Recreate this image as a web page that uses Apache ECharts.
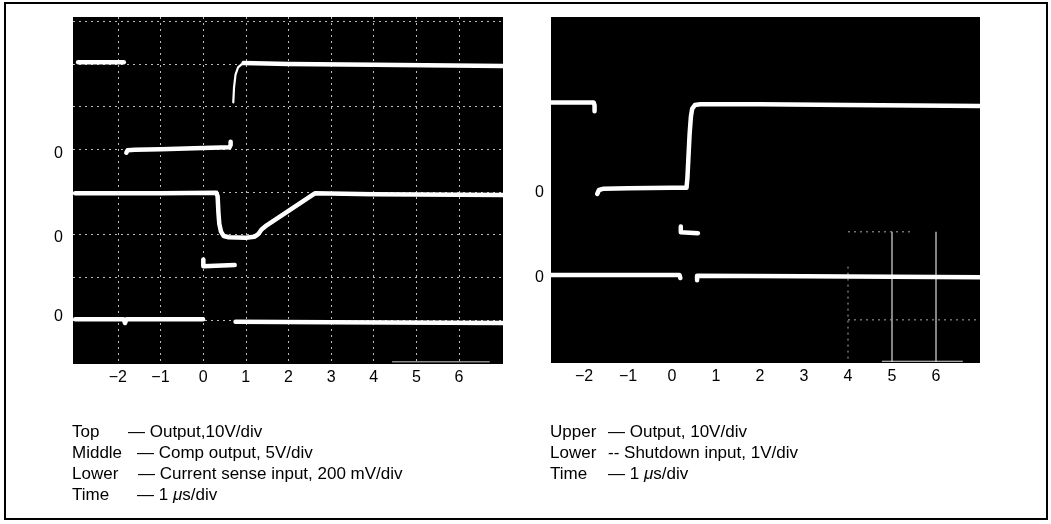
<!DOCTYPE html>
<html><head><meta charset="utf-8">
<script src="https://cdn.jsdelivr.net/npm/echarts@6/dist/echarts.min.js"></script>
<style>html,body{margin:0;padding:0;background:#fff}#c{width:1051px;height:524px}</style>
</head><body><div id="c"></div>
<script>
// ---- axis ticks (time in µs, vertical positions in screen divisions) ----
const timeTicks = [-2, -1, 0, 1, 2, 3, 4, 5, 6];
const timeTickLabels = ['\u22122', '\u22121', '0', '1', '2', '3', '4', '5', '6'];
const leftDivLines = [1, 2, 3, 4, 5, 6, 7, 8];
const leftZeroLabels = [4.91, 2.94, 1.07];
const rightZeroLabels = [3.86, 1.94];

// ---- left scope: Top = Output, Middle = Comp output, Lower = Current sense ----
const leftOutputBefore = [[-2.93, 7.04], [-1.86, 7.04]];
const leftOutputLow = [[-1.80, 4.92], [-1.77, 4.98], [-1.6, 4.99], [-1.0, 5.0], [0.0, 5.03], [0.62, 5.05], [0.645, 5.1], [0.645, 5.18]];
const leftOutputRise = [[0.707, 6.1], [0.725, 6.45], [0.76, 6.75], [0.82, 6.92], [0.9, 6.99], [1.0, 7.02]];
const leftOutputHigh = [[0.95, 7.02], [2.0, 7.0], [4.0, 6.98], [7.03, 6.95]];
const leftComp = [[-3.0, 3.97], [-1.0, 3.97], [0.31, 3.98], [0.34, 3.9], [0.36, 3.5], [0.38, 3.25], [0.42, 3.07], [0.48, 2.97], [0.6, 2.94], [1.0, 2.93], [1.2, 2.95], [1.3, 3.02], [1.37, 3.12], [1.49, 3.22], [2.62, 3.97], [4.0, 3.95], [7.03, 3.93]];
const leftSenseBefore = [[-3.0, 1.02], [-1.86, 1.02], [-1.83, 0.93], [-1.80, 1.02], [0.0, 1.02]];
const leftSensePulse = [[0.005, 2.42], [0.005, 2.26], [0.03, 2.29], [0.74, 2.29]];
const leftSenseAfter = [[0.76, 0.96], [3.0, 0.95], [7.03, 0.93]];
const leftBottomTrace = [[4.43, 0.02], [6.72, 0.02]];

// ---- right scope: Upper = Output, Lower = Shutdown input ----
const rightOutputBefore = [[-2.75, 5.92], [-1.78, 5.92], [-1.76, 5.85], [-1.76, 5.72]];
const rightOutput = [[-1.70, 3.84], [-1.66, 3.93], [-1.55, 3.96], [-1.0, 3.97], [0.0, 3.98], [0.33, 3.98], [0.35, 4.2], [0.37, 4.6], [0.40, 5.2], [0.43, 5.6], [0.46, 5.78], [0.52, 5.86], [0.64, 5.88], [2.0, 5.88], [4.0, 5.86], [7.0, 5.84]];
const rightShutdownBefore = [[-2.75, 2.0], [0.0, 2.0], [0.17, 2.0], [0.19, 1.93]];
const rightShutdownPulse = [[0.20, 3.1], [0.20, 2.97], [0.23, 2.95], [0.59, 2.95]];
const rightShutdownAfter = [[0.57, 1.88], [0.57, 1.98], [0.60, 1.98], [3.0, 1.97], [7.0, 1.95]];
// faint graticule pieces visible in the right photo
const rightGridSolid = [[[5, 0.02], [5, 2.98]], [[6, 0.02], [6, 2.98]], [[4.77, 0.04], [6.61, 0.04]]];
const rightGridDotted = [[[4, 0.1], [4, 2.2]], [[4.0, 0.98], [7.0, 0.98]], [[4.0, 2.98], [5.5, 2.98]]];

// ---- captions ----
const leftCaptionNames = ['Top', 'Middle', 'Lower', 'Time'];
const leftCaptionTexts = ['\u2014 Output,10V/div', '\u2014 Comp output, 5V/div', '\u2014 Current sense input, 200 mV/div', '\u2014 1 {m|\u03bc}s/div'];
const rightCaptionNames = ['Upper', 'Lower', 'Time'];
const rightCaptionTexts = ['\u2014 Output, 10V/div', '-- Shutdown input, 1V/div', '\u2014 1 {m|\u03bc}s/div'];

const FONT = '"Liberation Sans", Arial, Helvetica, sans-serif';
const chart = echarts.init(document.getElementById('c'), null, {renderer: 'canvas'});

function trace(data, xi, w) {
  return {
    type: 'line', xAxisIndex: xi, yAxisIndex: xi, data: data,
    symbol: 'none', silent: true, animation: false, clip: true, z: 5,
    lineStyle: {color: '#fff', width: w || 4.5, cap: 'round', join: 'round'}
  };
}
function deco(data, xi, color, type, w) {
  return {
    type: 'line', xAxisIndex: xi, yAxisIndex: xi, data: data,
    symbol: 'none', silent: true, animation: false, clip: true, z: 3,
    lineStyle: {color: color, width: w || 1, type: type}
  };
}
const tickLabel = v => timeTickLabels[timeTicks.indexOf(Math.round(v))];
const axisTextStyle = {color: '#000', fontSize: 16, fontFamily: FONT};

const series = [
  trace(leftOutputBefore, 0), trace(leftOutputLow, 0), trace(leftOutputRise, 0, 2.2), trace(leftOutputHigh, 0),
  trace(leftComp, 0), trace(leftSenseBefore, 0), trace(leftSensePulse, 0), trace(leftSenseAfter, 0),
  deco(leftBottomTrace, 0, '#888', 'solid', 1.5),
  trace(rightOutputBefore, 1), trace(rightOutput, 1), trace(rightShutdownBefore, 1),
  trace(rightShutdownPulse, 1), trace(rightShutdownAfter, 1)
];
rightGridSolid.forEach(d => series.push(deco(d, 1, '#ddd', 'solid', 1.2)));
rightGridDotted.forEach(d => series.push(deco(d, 1, '#aaa', [2, 4], 1)));

const graphic = [
  {type: 'rect', shape: {x: 5, y: 3, width: 1042, height: 516}, style: {fill: 'none', stroke: '#000', lineWidth: 2}, z: 10}
];
const captionStyle = (txt, x, y) => ({
  type: 'text', x: x, y: y, z: 10,
  style: {text: txt, fill: '#000', font: '17px ' + FONT, verticalAlign: 'middle',
          rich: {m: {fontStyle: 'italic', fontSize: 17, fontFamily: FONT, fill: '#000'}}}
});
const rowsY = [432, 453, 474, 495];
const leftDescX = [128, 137, 138, 137];
leftCaptionNames.forEach((n, i) => {
  graphic.push(captionStyle(n, 72, rowsY[i]));
  graphic.push(captionStyle(leftCaptionTexts[i], leftDescX[i], rowsY[i]));
});
rightCaptionNames.forEach((n, i) => {
  graphic.push(captionStyle(n, 550, rowsY[i]));
  graphic.push(captionStyle(rightCaptionTexts[i], 608, rowsY[i]));
});

chart.setOption({
  backgroundColor: '#fff',
  animation: false,
  grid: [
    {left: 73, top: 17, width: 430, height: 347, show: true, backgroundColor: '#000', borderWidth: 0},
    {left: 551, top: 17, width: 429, height: 346, show: true, backgroundColor: '#000', borderWidth: 0}
  ],
  xAxis: [
    {gridIndex: 0, type: 'value', min: -3.05, max: 7.03,
     axisLine: {show: false}, axisTick: {show: false, customValues: timeTicks},
     axisLabel: Object.assign({customValues: timeTicks, formatter: tickLabel, margin: 6}, axisTextStyle),
     splitLine: {show: true, lineStyle: {color: '#bbb', type: [2, 4], width: 1}}},
    {gridIndex: 1, type: 'value', min: -2.75, max: 7.0,
     axisLine: {show: false}, axisTick: {show: false, customValues: timeTicks},
     axisLabel: Object.assign({customValues: timeTicks, formatter: tickLabel, margin: 6}, axisTextStyle),
     splitLine: {show: false}}
  ],
  yAxis: [
    {gridIndex: 0, type: 'value', min: -0.03, max: 8.1,
     axisLine: {show: false}, axisTick: {show: false, customValues: leftDivLines},
     axisLabel: Object.assign({customValues: leftZeroLabels, formatter: () => '0', margin: 10}, axisTextStyle),
     splitLine: {show: true, lineStyle: {color: '#bbb', type: [2, 4], width: 1}}},
    {gridIndex: 1, type: 'value', min: 0, max: 7.86,
     axisLine: {show: false}, axisTick: {show: false, customValues: rightZeroLabels},
     axisLabel: Object.assign({customValues: rightZeroLabels, formatter: () => '0', margin: 7}, axisTextStyle),
     splitLine: {show: false}}
  ],
  series: series,
  graphic: graphic
});
</script>
</body></html>
